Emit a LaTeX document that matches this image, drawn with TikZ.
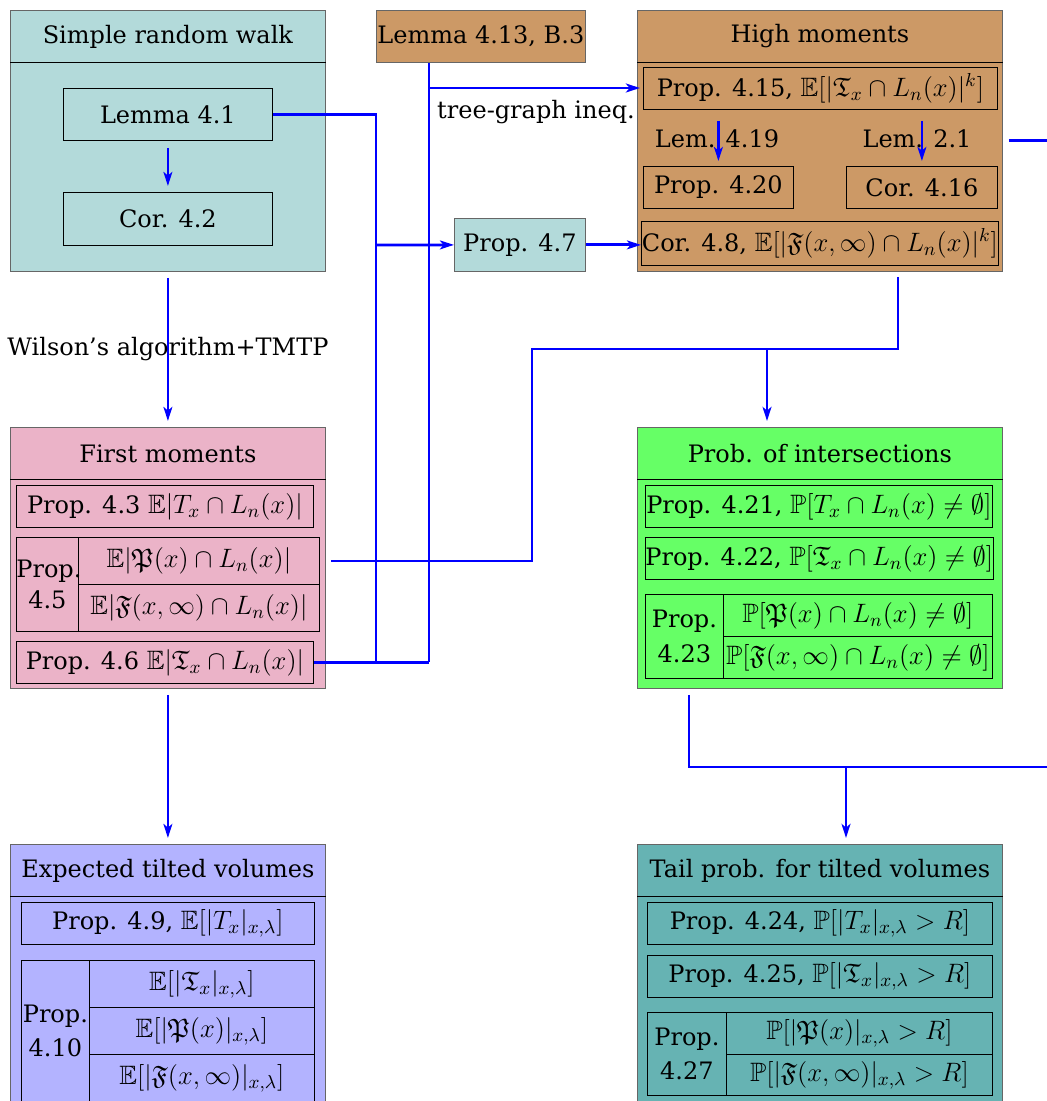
\documentclass[tikz,border=0pt]{standalone}
\usepackage{fix-cm}
\usepackage{amsfonts}
\usepackage{amsmath}
\usepackage{amssymb}
\usepackage{fontspec}
\setmainfont{DejaVu Serif}
\DeclareMathSizes{12}{13.3}{9.4}{7}
\usetikzlibrary{arrows.meta}

\definecolor{walkcol}{HTML}{B3DADA}
\definecolor{highcol}{HTML}{CC9966}
\definecolor{firstcol}{HTML}{EBB3C8}
\definecolor{intcol}{HTML}{66FF66}
\definecolor{expcol}{HTML}{B3B3FF}
\definecolor{tailcol}{HTML}{66B3B3}

\tikzset{
  group/.style={draw=black!60, anchor=north west, inner sep=0pt, minimum width=157.5pt, minimum height=130.5pt},
  head/.style={anchor=north west, inner sep=0pt, minimum width=157.5pt, minimum height=26pt},
  res/.style={draw, anchor=north west, inner sep=0pt, minimum height=21pt},
  link/.style={draw=blue, line width=1.4pt},
  arr/.style={link, -{Stealth[length=7pt,width=4.4pt,inset=1.8pt]}},
  gap/.style={shorten <=3pt, shorten >=3pt},
}

\begin{document}
\begin{tikzpicture}[x=0.5pt,y=-0.5pt,font=\fontsize{12}{14.4}\selectfont]
\useasboundingbox (0,0) rectangle (1046,1101);

% simple random walk
\node[group, fill=walkcol] (srw) at (10,10) {};
\node[head] (srwt) at (10,10) {Simple random walk};
\draw (srw.west |- srwt.south) -- (srw.east |- srwt.south);
\node[res, minimum width=104.5pt, minimum height=26pt] (lem41) at (63,88) {Lemma 4.1};
\node[res, minimum width=104.5pt, minimum height=26.5pt] (cor42) at (63,192) {Cor. 4.2};
\draw[arr, shorten <=3.5pt, shorten >=3pt] (lem41) -- (cor42);

\node[group, fill=highcol, minimum width=104.5pt, minimum height=26pt] (lem413) at (376,10) {Lemma 4.13, B.3};
\node[group, fill=walkcol, minimum width=65.5pt, minimum height=26.5pt] (prop47) at (454,218) {Prop. 4.7};

% high moments
\node[group, fill=highcol, minimum width=182.5pt] (high) at (637,10) {};
\node[head, minimum width=182.5pt] (hight) at (637,10) {High moments};
\draw (high.west |- hight.south) -- (high.east |- hight.south);
\node[res, minimum width=177pt] (p415) at (643,67) {Prop. 4.15, $\mathbb{E}[|\mathfrak{T}_x\cap L_n(x)|^k]$};
\node (l419) at (717,139) {Lem. 4.19};
\node (l21) at (917,139) {Lem. 2.1};
\node[res, minimum width=75pt] (p420) at (643,166) {Prop. 4.20};
\node[res, minimum width=75.5pt] (c416) at (846,166) {Cor. 4.16};
\node[res, minimum width=178.5pt, minimum height=22pt] (c48) at (641,221) {Cor. 4.8, $\mathbb{E}[|\mathfrak{F}(x,\infty)\cap L_n(x)|^k]$};
\draw[arr, shorten <=5.5pt, shorten >=2.5pt] (p415.south -| p420.north) -- (p420.north);
\draw[arr, shorten <=5.5pt, shorten >=2.5pt] (p415.south -| c416.north) -- (c416.north);

% first moments
\node[group, fill=firstcol] (first) at (10,427) {};
\node[head] (firstt) at (10,427) {First moments};
\draw (first.west |- firstt.south) -- (first.east |- firstt.south);
\node[res, minimum width=148.5pt] (p43) at (16,485) {Prop. 4.3 $\mathbb{E}|T_x\cap L_n(x)|$};
\node[res, text width=31pt, minimum height=47pt, align=center] (p45l) at (16,537) {Prop.\\[1.2pt]4.5};
\node[res, minimum width=120.5pt, minimum height=23.5pt] (p45a) at (78,537) {$\mathbb{E}|\mathfrak{P}(x)\cap L_n(x)|$};
\node[res, minimum width=120.5pt, minimum height=23.5pt] (p45b) at (78,584) {$\mathbb{E}|\mathfrak{F}(x,\infty)\cap L_n(x)|$};
\node[res, minimum width=148.5pt] (p46) at (16,641) {Prop. 4.6 $\mathbb{E}|\mathfrak{T}_x\cap L_n(x)|$};

% prob. of intersections
\node[group, fill=intcol, minimum width=182.5pt] (inter) at (637,427) {};
\node[head, minimum width=182.5pt] (intert) at (637,427) {Prob. of intersections};
\draw (inter.west |- intert.south) -- (inter.east |- intert.south);
\node[res, minimum width=173.5pt] (p421) at (645,485) {Prop. 4.21, $\mathbb{P}[T_x\cap L_n(x)\neq\emptyset]$};
\node[res, minimum width=173.5pt] (p422) at (645,537) {Prop. 4.22, $\mathbb{P}[\mathfrak{T}_x\cap L_n(x)\neq\emptyset]$};
\node[res, text width=39pt, minimum height=42pt, align=center] (p423l) at (645,594) {Prop.\\[3pt]4.23};
\node[res, minimum width=134.5pt] (p423a) at (723,594) {$\mathbb{P}[\mathfrak{P}(x)\cap L_n(x)\neq\emptyset]$};
\node[res, minimum width=134.5pt] (p423b) at (723,636) {$\mathbb{P}[\mathfrak{F}(x,\infty)\cap L_n(x)\neq\emptyset]$};

% expected tilted volumes
\node[group, fill=expcol, minimum height=135pt] (expv) at (10,844) {};
\node[head] (expvt) at (10,844) {Expected tilted volumes};
\draw (expv.west |- expvt.south) -- (expv.east |- expvt.south);
\node[res, minimum width=146.5pt] (p49) at (21,902) {Prop. 4.9, $\mathbb{E}[|T_x|_{x,\lambda}]$};
\node[res, text width=34pt, minimum height=70.5pt, align=center] (p410l) at (21,960) {Prop.\\[2.6pt]4.10};
\node[res, minimum width=112.5pt, minimum height=23.5pt] (p410a) at (89,960) {$\mathbb{E}[|\mathfrak{T}_x|_{x,\lambda}]$};
\node[res, minimum width=112.5pt, minimum height=23.5pt] (p410b) at (89,1007) {$\mathbb{E}[|\mathfrak{P}(x)|_{x,\lambda}]$};
\node[res, minimum width=112.5pt, minimum height=23.5pt] (p410c) at (89,1054) {$\mathbb{E}[|\mathfrak{F}(x,\infty)|_{x,\lambda}]$};

% tail prob.
\node[group, fill=tailcol, minimum width=182.5pt, minimum height=135pt] (tail) at (637,844) {};
\node[head, minimum width=182.5pt] (tailt) at (637,844) {Tail prob. for tilted volumes};
\draw (tail.west |- tailt.south) -- (tail.east |- tailt.south);
\node[res, minimum width=172.5pt] (p424) at (647,902) {Prop. 4.24, $\mathbb{P}[|T_x|_{x,\lambda}>R]$};
\node[res, minimum width=172.5pt] (p425) at (647,955) {Prop. 4.25, $\mathbb{P}[|\mathfrak{T}_x|_{x,\lambda}>R]$};
\node[res, text width=39.5pt, minimum height=41.5pt, align=center] (p427l) at (647,1012) {Prop.\\[3pt]4.27};
\node[res, minimum width=133pt] (p427a) at (726,1012) {$\mathbb{P}[|\mathfrak{P}(x)|_{x,\lambda}>R]$};
\node[res, minimum width=133pt, minimum height=20.5pt] (p427b) at (726,1054) {$\mathbb{P}[|\mathfrak{F}(x,\infty)|_{x,\lambda}>R]$};

% connectors
\coordinate (ja) at (376,245);
\coordinate (jb) at (429,88);
\coordinate (ka) at (376,662);
\coordinate (kb) at (429,662);
\coordinate (kc) at (532,349);
\coordinate (kd) at (767,349);
\coordinate (hm) at (898,277);
\coordinate (ke) at (689,767);
\coordinate (kf) at (846,767);
\coordinate (kg) at (1050,767);
\coordinate (kh) at (1050,140);

\draw[arr, gap] (srw) -- node{Wilson's algorithm+TMTP} (first);
\draw[arr, gap] (first) -- (expv);
\draw[link] (lem41.east) -| (ka);
\draw[link] (p46.east) -- (p46.east -| kb);
\draw[link] (lem413.south -| kb) -- (kb);
\draw[arr] (ja) -- (prop47.west);
\draw[arr, shorten >=1.5pt] (jb) -- node[below, yshift=-2pt]{tree-graph ineq.} (jb -| p415.west);
\draw[arr] (prop47.east) -- (prop47.east -| c48.west);
\draw[link] (hm) |- (kc) |- ([xshift=5.5pt]p45a.east);
\draw[arr, shorten >=3pt] (kd) -- (kd |- inter.north);
\draw[link] ([yshift=-3pt]inter.south -| ke) -- (ke) -- (kg);
\draw[arr, shorten >=3pt] (kf) -- (kf |- tail.north);
\draw[link] ([xshift=3pt]high.east) -- (high.east -| kh);
\end{tikzpicture}
\end{document}
